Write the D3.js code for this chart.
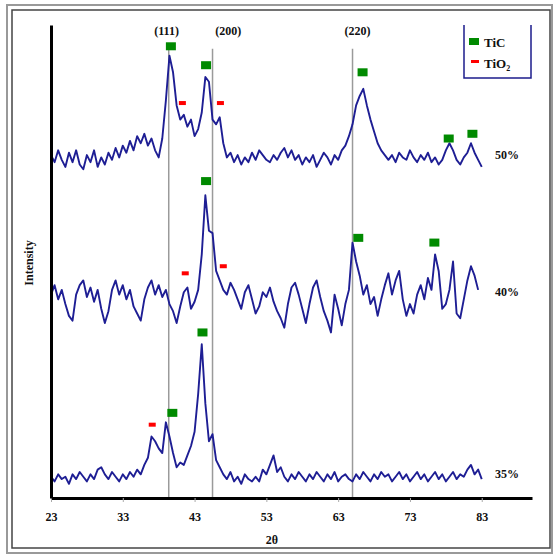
<!DOCTYPE html>
<html>
<meta charset="utf-8">
<head>
  <title>XRD patterns</title>
</head>

<style>
body { margin: 0; background: white; }
text {
  font-family: "Liberation Serif", "DejaVu Serif", serif;
  font-weight: bold;
  fill: #111;
}
.trace { fill: none; stroke: #1e1e94; stroke-width: 1.9; stroke-linejoin: round; }
</style>

<body>
  <div id="chart"></div>

  <script src="https://d3js.org/d3.v7.min.js"></script>
  <script>

// 2-theta scan, 0.5 deg steps
var scanStart = 23, scanEnd = 83, scanStep = 0.5;

var i50 = [
  145,142,147,143,140,146,142,147,141,139,
  145,142,147,140,144,141,146,143,148,144,
  149,146,151,147,153,150,154,149,152,147,
  144,152,168,187,180,166,160,162,157,160,
  153,156,163,178,176,160,158,161,150,144,
  146,142,145,141,144,142,146,143,147,145,
  143,142,145,143,146,148,144,147,143,145,
  141,144,142,145,140,143,146,144,141,145,
  143,147,149,153,158,166,170,173,166,160,
  155,150,147,145,143,145,142,146,144,143,
  147,144,142,145,143,146,142,144,141,143,
  147,150,147,143,141,144,146,150,146,143,
  140
];

var i40 = [
  86,90,84,88,82,77,75,86,90,92,
  85,89,83,88,80,74,79,88,92,86,
  90,84,88,81,78,75,84,89,92,86,
  90,85,88,82,79,74,81,87,89,80,
  83,88,103,128,113,112,96,92,88,86,
  91,88,84,80,87,90,84,78,81,87,
  85,89,83,79,76,72,82,89,91,86,
  80,74,82,89,92,85,79,75,70,86,
  80,73,82,88,108,100,94,86,90,82,
  85,77,84,90,95,86,92,96,84,77,
  82,78,86,90,84,93,88,103,96,80,
  82,88,100,78,76,84,92,98,94,88,
  null
];

var i35 = [
  9,7,10,8,9,6,10,8,11,9,
  7,10,8,12,13,10,8,11,9,7,
  10,8,11,9,12,10,14,17,26,24,
  21,19,32,26,19,13,15,14,18,22,
  28,44,65,40,24,27,16,13,10,8,
  11,7,9,6,10,8,7,9,7,12,
  10,14,18,11,13,9,7,10,8,11,
  9,7,10,8,11,9,7,10,8,11,
  7,9,10,8,7,10,8,11,9,7,
  10,8,11,9,10,7,9,11,8,10,
  7,9,11,8,10,7,9,11,8,10,
  7,9,11,8,10,9,12,14,10,12,
  8
];

var seriesNames = ["50%", "40%", "35%"];
var seriesLabelY = [145, 87, 10];

// phase markers [2theta, intensity]
var ticMarks = [[39.7,191],[44.6,183],[66.4,180],[78.4,152],[81.7,154],
                [44.6,134],[65.8,110],[76.4,108],
                [39.9,36],[44.1,70]];
var tio2Marks = [[41.3,167],[46.6,167],[41.7,95],[47.0,98],[37.1,31]];

var hklLines = [39.4, 45.5, 65.0];
var hklLabels = ["(111)", "(200)", "(220)"];
var hklLabelPos = [39.1, 47.7, 65.7];

var xTicks = [23, 33, 43, 53, 63, 73, 83];
var legendNames = ["TiC", "TiO"];

var width = 554, height = 556;

var svg = d3.select('#chart')
  .append('svg')
  .attr('width', width)
  .attr('height', height);

// picture frame
svg.append('rect')
  .attr('x', 7).attr('y', 5).attr('width', 545).attr('height', 548)
  .attr('fill', 'none').attr('stroke', '#999').attr('stroke-width', 2);
svg.append('rect')
  .attr('x', 12).attr('y', 10).attr('width', 538).attr('height', 538)
  .attr('fill', 'none').attr('stroke', '#444').attr('stroke-width', 1.5);

var x = d3.scaleLinear().domain([23, 90]).range([51, 532]);
var y = d3.scaleLinear().domain([0, 200]).range([498, 25]);

var angles = d3.range(scanStart, scanEnd + scanStep / 2, scanStep);

// reference lines
svg.selectAll('.hkl-line')
  .data(hklLines)
  .enter()
  .append('line')
  .attr('x1', d => x(d)).attr('x2', d => x(d))
  .attr('y1', y(190)).attr('y2', y(0))
  .attr('stroke', '#9a9a9a')
  .attr('stroke-width', 1.5);

svg.selectAll('.hkl-label')
  .data(hklLabels)
  .enter()
  .append('text')
  .attr('x', (d, i) => x(hklLabelPos[i]))
  .attr('y', 35)
  .attr('text-anchor', 'middle')
  .style('font-size', '12px')
  .text(d => d);

// traces
var line = d3.line()
  .defined(d => d[1] != null)
  .x(d => x(d[0]))
  .y(d => y(d[1]));

[i50, i40, i35].forEach(function(vals, k) {
  var pts = angles.map((a, i) => [a, vals[i]]);
  svg.append('path')
    .attr('class', 'trace')
    .attr('d', line(pts));
  svg.append('text')
    .attr('x', 495)
    .attr('y', y(seriesLabelY[k]) + 4)
    .style('font-size', '12px')
    .text(seriesNames[k]);
});

// phase markers
svg.selectAll('.tic')
  .data(ticMarks)
  .enter()
  .append('rect')
  .attr('x', d => x(d[0]) - 5)
  .attr('y', d => y(d[1]) - 4)
  .attr('width', 10).attr('height', 8)
  .attr('fill', '#008a00');

svg.selectAll('.tio2')
  .data(tio2Marks)
  .enter()
  .append('rect')
  .attr('x', d => x(d[0]) - 3.5)
  .attr('y', d => y(d[1]) - 2)
  .attr('width', 7).attr('height', 4)
  .attr('fill', '#ff0000');

// axes
var xAxis = d3.axisBottom(x).tickValues(xTicks).tickSize(4).tickSizeOuter(0).tickPadding(10);
var gx = svg.append('g')
  .attr('transform', 'translate(0,498)')
  .call(xAxis);
gx.select('.domain').attr('stroke', '#000').attr('stroke-width', 3);
gx.selectAll('.tick line').attr('stroke', '#aaa');
gx.selectAll('.tick text')
  .style('font-size', '12px')
  .style('font-family', '"Liberation Serif", serif')
  .attr('fill', '#111');

var gy = svg.append('g')
  .attr('transform', 'translate(51,0)')
  .call(d3.axisLeft(y).ticks(0).tickSizeOuter(0));
gy.select('.domain').attr('stroke', '#000').attr('stroke-width', 3);

svg.append('text')
  .attr('x', 272).attr('y', 544)
  .attr('text-anchor', 'middle')
  .style('font-size', '12px')
  .text('2θ');

svg.append('text')
  .attr('transform', 'translate(33,263) rotate(-90)')
  .attr('text-anchor', 'middle')
  .style('font-size', '12px')
  .text('Intensity');

// legend
var lg = svg.append('g');
lg.append('path')
  .attr('d', 'M464,25 V78 H531 V25')
  .attr('fill', 'none')
  .attr('stroke', '#1c1c8c')
  .attr('stroke-width', 1.5);
lg.append('rect').attr('x', 469).attr('y', 38).attr('width', 10).attr('height', 7).attr('fill', '#008a00');
lg.append('rect').attr('x', 471).attr('y', 60).attr('width', 8).attr('height', 3).attr('fill', '#ff0000');
lg.append('text').attr('x', 484).attr('y', 47).style('font-size', '13px').text(legendNames[0]);
var t2 = lg.append('text').attr('x', 484).attr('y', 68).style('font-size', '13px').text(legendNames[1]);
t2.append('tspan').attr('dy', 3).style('font-size', '8px').text('2');

  </script>
</body>
</html>
